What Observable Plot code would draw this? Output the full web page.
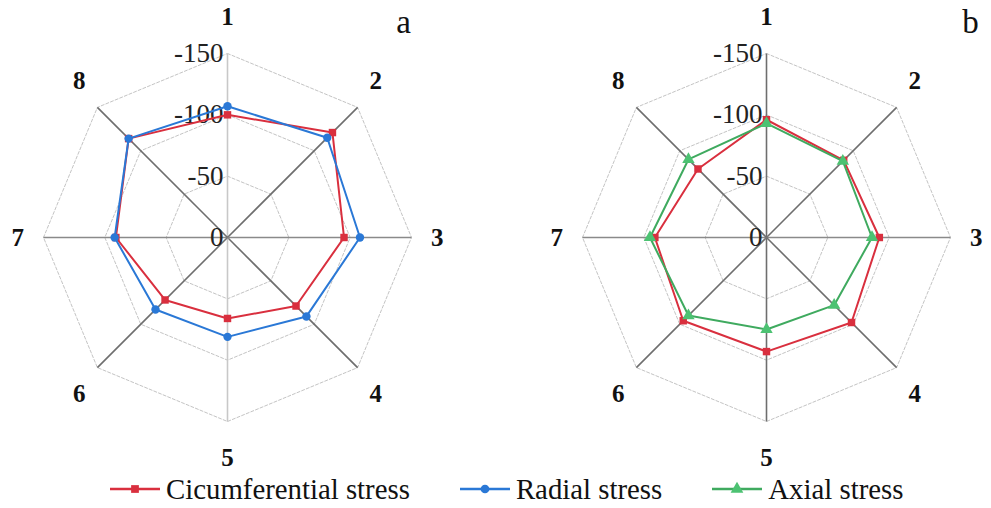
<!DOCTYPE html>
<html>
<head>
<meta charset="utf-8">
<script src="https://cdn.jsdelivr.net/npm/d3@7"></script>
<script src="https://cdn.jsdelivr.net/npm/@observablehq/plot@0.6"></script>
<style>
  html, body { margin: 0; padding: 0; background: #fff; }
  #wrap { width: 991px; height: 508px; position: relative; font-family: "Liberation Serif", "Times New Roman", serif; }
  #charts { display: flex; width: 991px; }
  #legend { display: flex; align-items: center; height: 38px; padding-left: 110px; font-size: 28.8px; color: #111; }
  .item { display: flex; align-items: center; margin-right: 50px; }
  .item svg { margin-right: 6px; }
</style>
</head>
<body>
<div id="wrap">
  <div id="charts"></div>
  <div id="legend"></div>
</div>
<script>
// ---- data ----
const axes = ["1", "2", "3", "4", "5", "6", "7", "8"];
const circA   = [-100, -121, -95, -79, -66, -72, -91, -114];
const radialA = [-107, -115, -108, -91, -81, -83, -92, -114];
const circB   = [-96, -89, -92, -98, -93, -96, -91, -79];
const axialB  = [-93, -88, -86, -78, -75, -90, -95, -90];
const tickValues = [0, -50, -100, -150];
const ringLevels = [-50, -100, -150];
const seriesNames = ["Cicumferential stress", "Radial stress", "Axial stress"];
const seriesColors = ["#d92f3e", "#2a78d6", "#3faa5f"];
const markerColors = ["#d92f3e", "#2a78d6", "#4cc272"];
const seriesSymbols = ["square", "circle", "triangle"];

// ---- helpers ----
const ang = i => i * Math.PI / 4;
const R = 150;          // outer ring (data units)
const labelRx = 171;    // spoke labels, horizontal reach (data units)
const labelRy = 180;    // spoke labels, vertical reach (data units)
const pts = (vals, s) => vals.map((v, i) => ({axis: axes[i], i, v, s}));

function radar({series, panel, width, marginLeft, marginRight, verticalLight}) {
  const ringPts = ringLevels.flatMap(l => axes.map((a, i) => ({l, i})));
  const marks = [
    Plot.line(ringPts, {
      x: d => -d.l * Math.sin(ang(d.i)), y: d => -d.l * Math.cos(ang(d.i)), z: "l",
      curve: "linear-closed", stroke: "#c4c4c4", strokeWidth: 1, strokeDasharray: "3,2"
    }),
    Plot.link(axes, {
      x1: 0, y1: 0,
      x2: (d, i) => R * Math.sin(ang(i)), y2: (d, i) => R * Math.cos(ang(i)),
      stroke: (d, i) => (i % 4 === 0 && verticalLight) ? "#c8c8c8" : (i % 4 === 2 ? "#8a8a8a" : "#6e6e6e"),
      strokeWidth: 1.6
    }),
    Plot.text(tickValues, {
      x: 0, y: d => -d, text: d => String(d), textAnchor: "end", dx: -4,
      fontSize: 27, fill: "#222"
    }),
    Plot.text(axes, {
      x: (d, i) => labelRx * Math.sin(ang(i)), y: (d, i) => labelRy * Math.cos(ang(i)),
      text: d => d, fontSize: 25, fontWeight: "bold", fill: "#111"
    })
  ];
  for (const s of series) {
    const data = pts(s.values, s.k);
    marks.push(
      Plot.line(data, {
        x: d => -d.v * Math.sin(ang(d.i)), y: d => -d.v * Math.cos(ang(d.i)),
        curve: "linear-closed", stroke: seriesColors[s.k], strokeWidth: 2
      }),
      Plot.dot(data, {
        x: d => -d.v * Math.sin(ang(d.i)), y: d => -d.v * Math.cos(ang(d.i)),
        symbol: seriesSymbols[s.k], fill: markerColors[s.k], stroke: "none",
        r: s.k === 2 ? 4.6 : 4.2
      })
    );
  }
  marks.push(Plot.text([panel.label], {
    frameAnchor: "top-right", textAnchor: "middle", lineAnchor: "middle",
    dx: panel.dx, dy: -31, fontSize: 33, fill: "#111"
  }));
  return Plot.plot({
    width, height: 470,
    marginLeft, marginRight, marginTop: 53, marginBottom: 49,
    style: {fontFamily: "'Liberation Serif', 'Times New Roman', serif", background: "#fff", overflow: "visible"},
    x: {domain: [-R, R], axis: null},
    y: {domain: [-R, R], axis: null},
    marks
  });
}

const charts = document.getElementById("charts");
charts.append(radar({
  series: [{k: 0, values: circA}, {k: 1, values: radialA}],
  panel: {label: "a", dx: -8}, width: 495, marginLeft: 43, marginRight: 84, verticalLight: true
}));
charts.append(radar({
  series: [{k: 0, values: circB}, {k: 2, values: axialB}],
  panel: {label: "b", dx: 20}, width: 496, marginLeft: 87, marginRight: 41, verticalLight: false
}));

// ---- legend ----
const legend = document.getElementById("legend");
seriesNames.forEach((name, k) => {
  const item = document.createElement("div");
  item.className = "item";
  const sym = d3.symbol(k === 0 ? d3.symbolSquare : k === 1 ? d3.symbolCircle : d3.symbolTriangle, k === 2 ? 70 : 60)();
  item.innerHTML = `<svg width="50" height="20"><line x1="0" x2="50" y1="10" y2="10" stroke="${seriesColors[k]}" stroke-width="2.5"/>` +
    `<path d="${sym}" transform="translate(25,10)" fill="${markerColors[k]}"/></svg><span>${name}</span>`;
  legend.append(item);
});
</script>
</body>
</html>
